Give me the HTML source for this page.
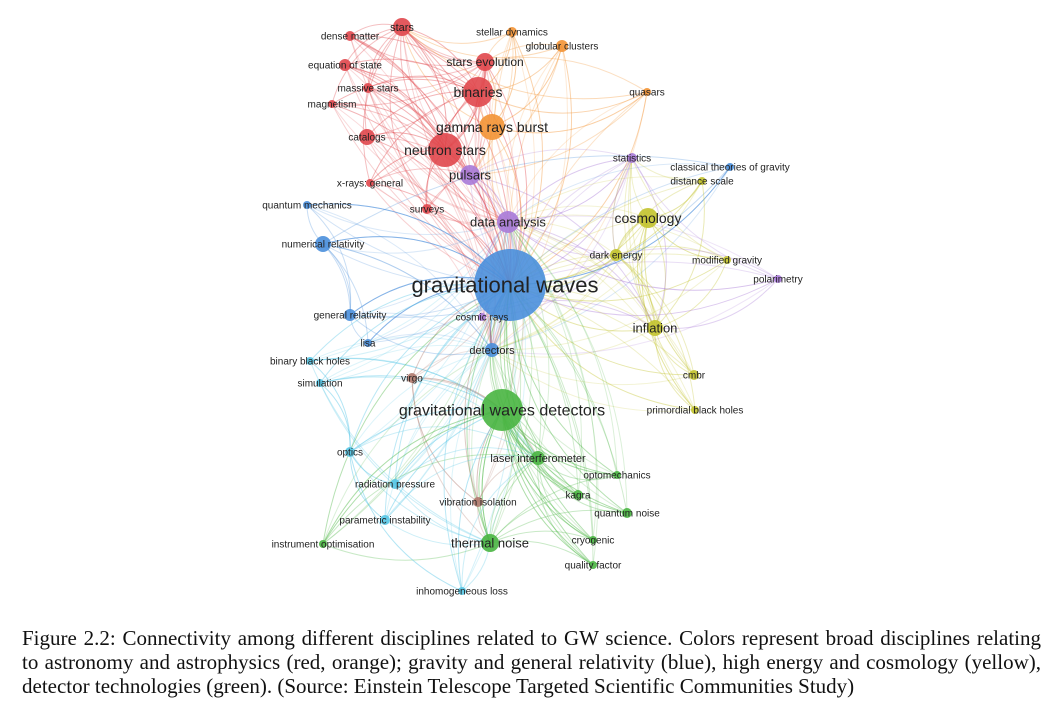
<!DOCTYPE html>
<html><head><meta charset="utf-8"><style>
body{margin:0;background:#fff;width:1061px;height:727px;overflow:hidden;font-family:"Liberation Sans",sans-serif}
#cap{position:absolute;left:22px;top:626px;width:1019px;font-family:"Liberation Serif",serif;font-size:21px;line-height:24px;color:#111}
#cap span{display:block;text-align:justify;text-align-last:justify;white-space:nowrap}
#cap span.last{text-align-last:left}
</style></head><body>
<svg id="net" width="1061" height="620" style="position:absolute;left:0;top:0"></svg>
<div id="cap"><span>Figure 2.2: Connectivity among different disciplines related to GW science. Colors represent broad disciplines relating</span><span>to astronomy and astrophysics (red, orange); gravity and general relativity (blue), high energy and cosmology (yellow),</span><span class="last">detector technologies (green). (Source: Einstein Telescope Targeted Scientific Communities Study)</span></div>
<script>
const labels=["gravitational waves","gravitational waves detectors","neutron stars","binaries","gamma rays burst","pulsars","data analysis","cosmology","inflation","thermal noise","detectors","stars evolution","stars","dense matter","equation of state","massive stars","magnetism","catalogs","x-rays: general","surveys","quantum mechanics","numerical relativity","general relativity","lisa","binary black holes","simulation","virgo","cosmic rays","stellar dynamics","globular clusters","quasars","statistics","classical theories of gravity","distance scale","dark energy","modified gravity","polarimetry","cmbr","primordial black holes","laser interferometer","optomechanics","kagra","quantum noise","cryogenic","quality factor","vibration isolation","optics","radiation pressure","parametric instability","instrument optimisation","inhomogeneous loss"];
const nx=[510,502,445,478,492,470,508,648,655,490,492,485,402,350,345,368,332,367,370,427,307,323,350,368,310,320,412,482,512,562,647,632,730,702,616,727,778,694,695,538,617,578,627,593,593,478,350,395,385,323,462];
const ny=[285,410,150,92,127,175,222,218,328,543,350,62,27,36,65,88,104,137,183,209,205,244,315,343,361,383,378,317,32,46,92,158,167,181,255,260,279,375,410,458,475,495,513,540,565,502,452,484,520,544,591];
const ns=[36,21,17,15,13,10,11,10,8,9,7,9,9,5,6,5,4,8,4,5,4,8,6,4,4,4,5,4,5,6,4,5,4,4,6,4,4,5,4,7,4,5,5,4,4,5,5,5,5,4,4];
const nc=["b","g","r","r","o","p","p","y","y","g","b","r","r","r","r","r","r","r","r","r","b","b","b","b","c","c","n","p","o","o","o","p","b","y","y","y","p","y","y","g","g","g","g","g","g","n","c","c","c","g","c"];
const ls=[22,16,14,14,14,13,13,14,13,13,11,12,11,10,10,10,10,10,10,10,10,10,10,10,10,10,10,10,10,10,10,10,10,10,10,10,10,10,10,11,10,10,10,10,10,10,10,10,10,10,10];
const col={b:"#4a8fdb",g:"#49b541",r:"#e0474c",o:"#f39435",p:"#a97ad8",y:"#c3c32e",c:"#57c6e6",n:"#b07a6e"};
const hubs={b:0,g:1,r:2,o:4,p:6,y:7,c:46,n:26};
const NS="http://www.w3.org/2000/svg";
const svg=document.getElementById('net');
const eg=document.createElementNS(NS,'g');svg.appendChild(eg);
function edge(i,j,c,o,b){const p=document.createElementNS(NS,'path');
const mx=(nx[i]+nx[j])/2+(ny[j]-ny[i])*b,my=(ny[i]+ny[j])/2-(nx[j]-nx[i])*b;
p.setAttribute('d',`M${nx[i]},${ny[i]}Q${mx},${my} ${nx[j]},${ny[j]}`);
p.setAttribute('fill','none');p.setAttribute('stroke',c);p.setAttribute('stroke-opacity',o);p.setAttribute('stroke-width',1);


eg.appendChild(p);}
for(let i=1;i<labels.length;i++){
 const c=col[nc[i]];
 edge(i,0,c,0.4,0.25);edge(i,0,c,0.25,-0.15);
 const h=hubs[nc[i]]; if(h!==i) edge(i,h,c,0.45,0.25);
 edge(i,10,c,0.2,0.2);edge(i,6,c,0.2,-0.2);
 if(nc[i]=='g'||nc[i]=='c'||nc[i]=='n') {edge(i,1,c,0.45,0.2);edge(i,9,c,0.3,-0.2);edge(i,39,c,0.3,0.3);}
 if(nc[i]=='r'||nc[i]=='o') {edge(i,3,c,0.4,0.25);edge(i,12,c,0.35,0.25);edge(i,11,c,0.3,-0.2);edge(i,5,c,0.3,0.2);}
 if(nc[i]=='y'||nc[i]=='p') {edge(i,8,c,0.35,0.25);edge(i,34,c,0.3,-0.2);edge(i,31,c,0.25,0.2);}
 if(nc[i]=='b') {edge(i,22,c,0.3,0.25);edge(i,21,c,0.3,-0.2);}
}
for(let i=0;i<labels.length;i++){
 const c=document.createElementNS(NS,'circle');
 c.setAttribute('cx',nx[i]);c.setAttribute('cy',ny[i]);c.setAttribute('r',ns[i]);
 c.setAttribute('fill',col[nc[i]]);c.setAttribute('fill-opacity',0.9);
 
 
 svg.appendChild(c);
}
for(let i=0;i<labels.length;i++){
 const t=document.createElementNS(NS,'text');
 t.setAttribute('x',nx[i]-(i==0?5:0));t.setAttribute('y',ny[i]+ls[i]*0.35);
 t.setAttribute('text-anchor','middle');t.setAttribute('font-size',ls[i]);
 t.setAttribute('fill','#222');t.setAttribute('font-family','Liberation Sans, sans-serif');
 t.textContent=labels[i];
 
 
 svg.appendChild(t);
}
</script>
</body></html>
